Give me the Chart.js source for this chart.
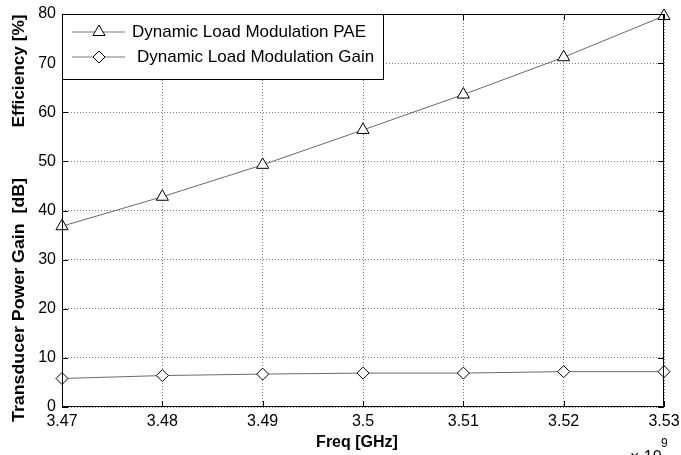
<!DOCTYPE html>
<html>
<head>
<meta charset="utf-8">
<script src="https://cdn.jsdelivr.net/npm/chart.js@4"></script>
<style>
  html, body { margin: 0; padding: 0; background: #fff; }
  #wrap { width: 681px; height: 455px; position: relative; }
</style>
</head>
<body>
<div id="wrap"><canvas id="grafik"></canvas></div>
<script>
// data
const frekans = [3.47, 3.48, 3.49, 3.50, 3.51, 3.52, 3.53];
const frekansEtiket = ['3.47', '3.48', '3.49', '3.5', '3.51', '3.52', '3.53'];
const pae = [36.8, 42.8, 49.3, 56.4, 63.6, 71.2, 79.6];
const kazanc = [5.8, 6.4, 6.7, 6.9, 6.9, 7.2, 7.2];
const yTikler = [0, 10, 20, 30, 40, 50, 60, 70, 80];

const FONT = '"Liberation Sans", Arial, sans-serif';

// dikey yazıyı verilen uzunluğa yayar
function dikeyYazi(c, metin, x, y, boy) {
    c.save();
    c.translate(x, y);
    c.rotate(-Math.PI / 2);
    const w = c.measureText(metin).width;
    c.scale(boy / w, 1);
    c.fillText(metin, 0, 0);
    c.restore();
}

// kutu, ic tikler, eksen basliklari ve lejant
const cizimEklentisi = {
    id: 'cizim',
    afterDraw(chart) {
        const c = chart.ctx;
        const a = chart.chartArea;
        const xs = chart.scales.x, ys = chart.scales.y;
        c.save();
        c.strokeStyle = '#000';
        c.lineWidth = 1;
        c.strokeRect(a.left + 0.5, a.top + 0.5, a.right - a.left - 1, a.bottom - a.top - 1);
        // ic tikler
        c.beginPath();
        yTikler.forEach(v => {
            const y = Math.round(ys.getPixelForValue(v)) + 0.5;
            c.moveTo(a.left, y); c.lineTo(a.left + 6, y);
            c.moveTo(a.right, y); c.lineTo(a.right - 6, y);
        });
        frekans.forEach(v => {
            const x = Math.round(xs.getPixelForValue(v)) + 0.5;
            c.moveTo(x, a.bottom); c.lineTo(x, a.bottom - 6);
            c.moveTo(x, a.top); c.lineTo(x, a.top + 6);
        });
        c.stroke();

        // eksen basliklari
        c.fillStyle = '#000';
        c.font = 'bold 16px ' + FONT;
        c.textAlign = 'center';
        c.textBaseline = 'middle';
        c.fillText('Freq [GHz]', 357, 443);
        dikeyYazi(c, 'Efficiency [%]', 20, 71, 113);
        dikeyYazi(c, 'Transducer Power Gain  [dB]', 20, 300, 244);
        c.font = '16px ' + FONT;
        c.textAlign = 'left';
        c.textBaseline = 'top';
        c.fillText('\u00d7 10', 630, 450);
        c.font = '12px ' + FONT;
        c.fillText('9', 661, 438);

        // lejant
        const lx = a.left, ly = a.top, lw = 321, lh = 65;
        c.fillStyle = '#fff';
        c.fillRect(lx, ly, lw, lh);
        c.strokeStyle = '#000';
        c.lineWidth = 1;
        c.strokeRect(lx + 0.5, ly + 0.5, lw, lh);
        const satirlar = [
            { ds: chart.data.datasets[0], y: 32, tx: 132 },
            { ds: chart.data.datasets[1], y: 57, tx: 137 }
        ];
        satirlar.forEach(s => {
            c.strokeStyle = '#555';
            c.lineWidth = 0.8;
            c.beginPath();
            c.moveTo(72, s.y); c.lineTo(125, s.y);
            c.stroke();
            c.fillStyle = '#fff';
            c.strokeStyle = '#000';
            c.lineWidth = 1;
            Chart.helpers.drawPoint(c, {
                pointStyle: s.ds.pointStyle, radius: s.ds.pointRadius,
                borderWidth: 1, rotation: 0
            }, 99, s.y);
            c.fillStyle = '#000';
            c.font = '17px ' + FONT;
            c.textBaseline = 'middle';
            c.fillText(s.ds.label, s.tx, s.y);
        });
        c.restore();
    }
};

const grf = document.getElementById('grafik').getContext('2d');

const veri = {
    datasets: [{
        label: 'Dynamic Load Modulation PAE',
        data: frekans.map((f, i) => ({ x: f, y: pae[i] })),
        borderColor: '#444',
        borderWidth: 0.8,
        pointStyle: 'triangle',
        pointRadius: 7,
        pointBackgroundColor: '#fff',
        pointBorderColor: '#000',
        pointBorderWidth: 1,
        clip: false
    }, {
        label: 'Dynamic Load Modulation Gain',
        data: frekans.map((f, i) => ({ x: f, y: kazanc[i] })),
        borderColor: '#444',
        borderWidth: 0.8,
        pointStyle: 'rectRot',
        pointRadius: 6,
        pointBackgroundColor: '#fff',
        pointBorderColor: '#000',
        pointBorderWidth: 1,
        clip: false
    }]
};

const con = {
    type: 'line',
    data: veri,
    options: {
        responsive: true,
        maintainAspectRatio: false,
        animation: false,
        layout: { padding: { left: 0, right: 17, top: 14, bottom: 0 } },
        plugins: {
            legend: { display: false },
            tooltip: { enabled: false }
        },
        scales: {
            x: {
                type: 'linear',
                min: 3.47,
                max: 3.53,
                afterBuildTicks: s => { s.ticks = frekans.map(v => ({ value: v })); },
                afterFit: s => { s.height = 48; s.paddingLeft = 0; s.paddingRight = 0; },
                ticks: {
                    color: '#000',
                    font: { family: FONT, size: 16 },
                    padding: 5,
                    maxRotation: 0,
                    autoSkip: false,
                    callback: (v, i) => frekansEtiket[i]
                },
                grid: {
                    color: '#777',
                    lineWidth: 1,
                    drawTicks: false
                },
                border: { display: false, dash: [1, 2] }
            },
            y: {
                min: 0,
                max: 80,
                afterBuildTicks: s => { s.ticks = yTikler.map(v => ({ value: v })); },
                afterFit: s => { s.width = 62; s.paddingTop = 0; s.paddingBottom = 0; },
                ticks: {
                    color: '#000',
                    font: { family: FONT, size: 16 },
                    padding: 6
                },
                grid: {
                    color: '#777',
                    lineWidth: 1,
                    drawTicks: false
                },
                border: { display: false, dash: [1, 2] }
            }
        }
    },
    plugins: [cizimEklentisi]
};

new Chart(grf, con);
</script>
</body>
</html>
